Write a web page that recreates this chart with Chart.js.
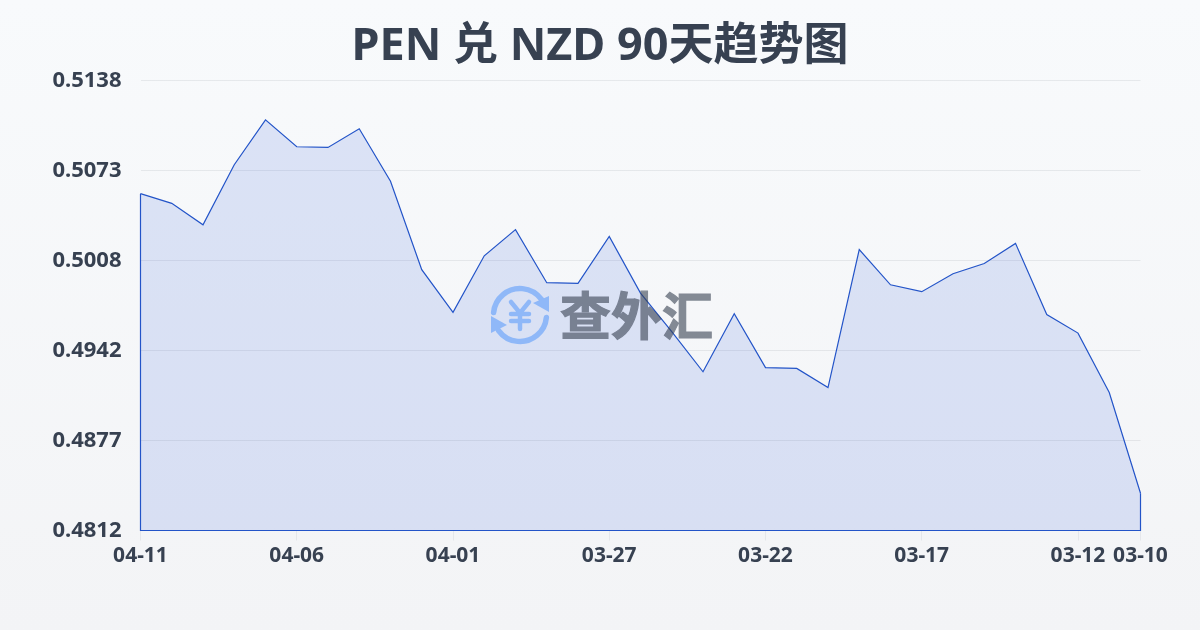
<!DOCTYPE html>
<html>
<head>
<meta charset="utf-8">
<title>PEN 兑 NZD 90天趋势图</title>
<script src="https://cdn.jsdelivr.net/npm/chart.js@4"></script>
<style>
  html, body { margin: 0; padding: 0; }
  body { width: 1200px; height: 630px; overflow: hidden; background: linear-gradient(180deg, #f8fafc 0%, #f3f4f6 100%); }
  canvas { display: block; }
</style>
</head>
<body>
<canvas id="rateChart" width="1200" height="630"></canvas>
<script>
var dates = [
  '04-11', '04-10', '04-09', '04-08', '04-07', '04-06', '04-05', '04-04', '04-03', '04-02', '04-01',
  '03-31', '03-30', '03-29', '03-28', '03-27', '03-26', '03-25', '03-24', '03-23', '03-22',
  '03-21', '03-20', '03-19', '03-18', '03-17', '03-16', '03-15', '03-14', '03-13', '03-12', '03-11', '03-10'
];
var rates = [
  0.5056, 0.5049, 0.50335, 0.5077, 0.51095, 0.5090, 0.50895, 0.5103, 0.5065, 0.5001, 0.4970,
  0.5011, 0.5030, 0.49915, 0.4991, 0.5025, 0.4984, 0.4956, 0.4927, 0.4969, 0.4930,
  0.49294, 0.49155, 0.50155, 0.4990, 0.4985, 0.4998, 0.50054, 0.5020, 0.49685, 0.4955, 0.4912, 0.4839
];
var xTickLabels = ['04-11', '04-06', '04-01', '03-27', '03-22', '03-17', '03-12', '03-10'];
var yTickLabels = ['0.5138', '0.5073', '0.5008', '0.4942', '0.4877', '0.4812'];

var lineBlue = '#2354c8';
var textDark = '#374151';

// closes the area outline down the two sides of the plot
var areaOutline = {
  id: 'areaOutline',
  afterDatasetsDraw: function (chart) {
    var a = chart.chartArea;
    var y = chart.scales.y;
    var c = chart.ctx;
    c.save();
    c.strokeStyle = lineBlue;
    c.lineWidth = 1.2;
    c.beginPath();
    c.moveTo(a.left, y.getPixelForValue(rates[0]));
    c.lineTo(a.left, a.bottom);
    c.lineTo(a.right, a.bottom);
    c.lineTo(a.right, y.getPixelForValue(rates[rates.length - 1]));
    c.stroke();
    c.restore();
  }
};

// logo in the middle of the plot
var watermark = {
  id: 'watermark',
  afterDatasetsDraw: function (chart) {
    var c = chart.ctx;
    var cx = 520, cy = 315, r = 26.5;

    // text goes through its own canvas so fill and stroke share one opacity
    var off = document.createElement('canvas');
    off.width = 1200;
    off.height = 630;
    var o = off.getContext('2d');
    o.fillStyle = textDark;
    o.strokeStyle = textDark;
    o.lineWidth = 1.2;
    o.font = 'bold 51px "Noto Sans CJK SC"';
    o.textBaseline = 'middle';
    o.fillText('查外汇', 560, 316);
    o.strokeText('查外汇', 560, 316);

    c.save();
    c.globalAlpha = 0.6;
    c.drawImage(off, 0, 0);
    c.globalAlpha = 1;
    var blue = '#8fb8f8';
    c.strokeStyle = blue;
    c.fillStyle = blue;
    c.lineWidth = 5.5;
    c.lineCap = 'round';
    c.beginPath();
    c.arc(cx, cy, r, Math.PI * 1.03, Math.PI * 1.8);
    c.stroke();
    c.beginPath();
    c.arc(cx, cy, r, Math.PI * 0.03, Math.PI * 0.8);
    c.stroke();
    // arrow heads
    c.beginPath();
    c.moveTo(549, 296);
    c.lineTo(549, 312);
    c.lineTo(533, 303);
    c.closePath();
    c.fill();
    c.beginPath();
    c.moveTo(491, 316);
    c.lineTo(491, 333);
    c.lineTo(507, 325);
    c.closePath();
    c.fill();
    // yen sign
    c.lineWidth = 4.5;
    c.beginPath();
    c.moveTo(511, 302);
    c.lineTo(520, 313);
    c.lineTo(529, 302);
    c.moveTo(520, 313);
    c.lineTo(520, 329);
    c.moveTo(511, 314);
    c.lineTo(529, 314);
    c.moveTo(511, 321);
    c.lineTo(529, 321);
    c.stroke();
    c.restore();
  }
};

var ctx = document.getElementById('rateChart').getContext('2d');

var rateChart = new Chart(ctx, {
  type: 'line',
  data: {
    labels: dates,
    datasets: [
      {
        label: 'PEN/NZD',
        data: rates,
        borderColor: lineBlue,
        borderWidth: 1.2,
        backgroundColor: 'rgba(29, 78, 216, 0.13)',
        fill: 'start',
        tension: 0,
        pointRadius: 0,
      },
    ],
  },
  options: {
    responsive: false,
    animation: false,
    plugins: {
      legend: { display: false },
      tooltip: { enabled: false },
      title: {
        display: true,
        text: 'PEN 兑 NZD 90天趋势图',
        color: textDark,
        font: { family: '"Noto Sans", "Noto Sans CJK SC"', size: 45, weight: 'bold', lineHeight: 1 },
        padding: { top: 25, bottom: 10.5 },
      },
    },
    scales: {
      x: {
        offset: false,
        afterBuildTicks: function (scale) {
          scale.ticks = scale.ticks.filter(function (t) {
            return xTickLabels.indexOf(dates[t.value]) !== -1;
          });
        },
        afterFit: function (scale) { scale.height = 99.5; },
        grid: { drawOnChartArea: false, drawTicks: true, tickLength: 10, color: '#e5e7eb' },
        border: { display: false },
        ticks: {
          autoSkip: false,
          maxRotation: 0,
          minRotation: 0,
          padding: 3,
          color: textDark,
          font: { family: '"Noto Sans"', size: 21, weight: 'bold' },
        },
      },
      y: {
        min: Number(yTickLabels[yTickLabels.length - 1]),
        max: Number(yTickLabels[0]),
        // labels are rounded, the lines themselves sit evenly between min and max
        afterBuildTicks: function (scale) {
          var step = (scale.max - scale.min) / (yTickLabels.length - 1);
          scale.ticks = yTickLabels.map(function (t, i) { return { value: scale.max - i * step }; });
        },
        afterFit: function (scale) { scale.width = 140.5; },
        grid: { drawTicks: false, color: 'rgba(55, 65, 81, 0.09)', lineWidth: 1 },
        border: { display: false },
        ticks: {
          padding: 19,
          color: textDark,
          font: { family: '"Noto Sans"', size: 22, weight: 'bold' },
          callback: function (value, index) { return yTickLabels[index]; },
        },
      },
      // empty axis, only holds the right margin so the title stays centred on the page
      rightMargin: {
        position: 'right',
        afterFit: function (scale) { scale.width = 59.5; },
        grid: { display: false },
        border: { display: false },
        ticks: { display: false },
      },
    },
  },
  plugins: [areaOutline, watermark],
});
</script>
</body>
</html>
